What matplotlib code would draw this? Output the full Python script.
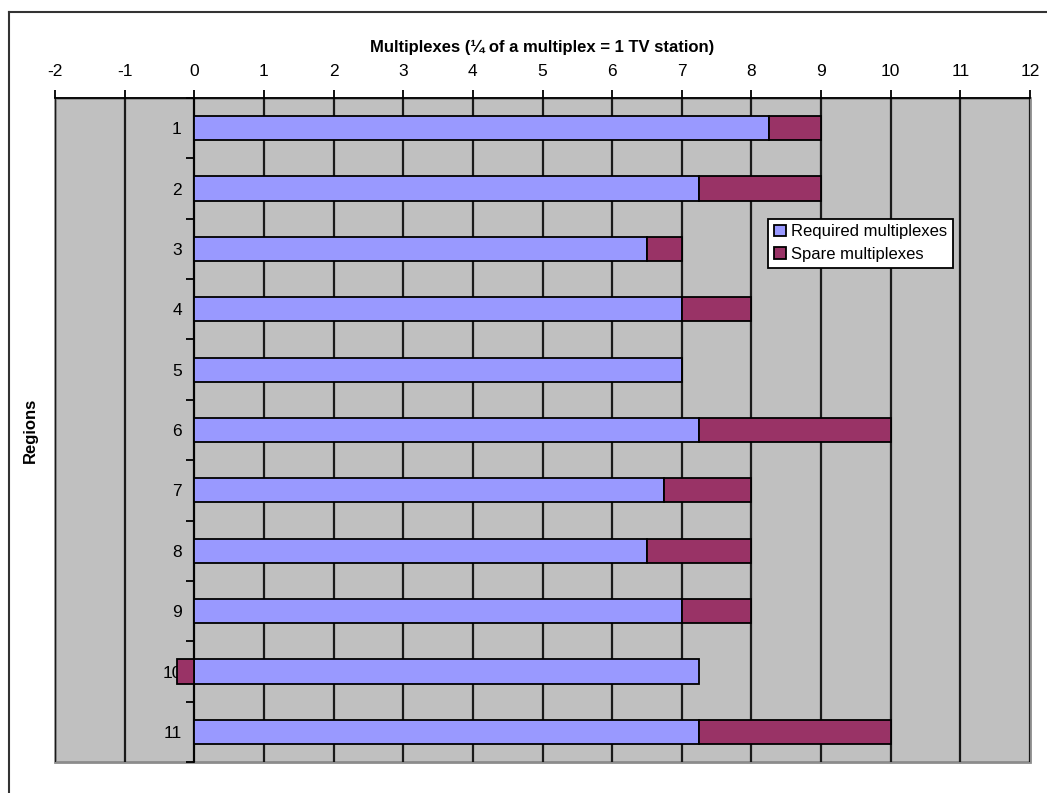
import matplotlib
matplotlib.use("Agg")
import matplotlib.pyplot as plt
from matplotlib.lines import Line2D
from matplotlib.ticker import MultipleLocator, FixedLocator
import numpy as np

plt.rcParams['font.family'] = ['Liberation Sans', 'DejaVu Sans']
plt.rcParams['axes.unicode_minus'] = False

regions = [1, 2, 3, 4, 5, 6, 7, 8, 9, 10, 11]
required = [8.25, 7.25, 6.5, 7, 7, 7.25, 6.75, 6.5, 7, 7.25, 7.25]
spare = [0.75, 1.75, 0.5, 1, 0, 2.75, 1.25, 1.5, 1, -0.25, 2.75]

fig = plt.figure(figsize=(10.47, 7.93), dpi=100)
ax = fig.add_axes([0.0525, 0.039, 0.9313, 0.8374])

req = np.array(required)
spr = np.array(spare)
# Excel-style stacking: negative values start from zero
spare_left = np.where(spr >= 0, req, 0)

ax.barh(regions, req, height=0.4, color='#9999FF', edgecolor='black',
        linewidth=1.3, label='Required multiplexes', zorder=3)
ax.barh(regions, spr, left=spare_left, height=0.4, color='#993366',
        edgecolor='black', linewidth=1.3, label='Spare multiplexes', zorder=3)

ax.set_xlim(-2, 12)
ax.set_ylim(11.5, 0.5)
ax.set_facecolor('#C0C0C0')
ax.patch.set_edgecolor('#8C8C8C')
ax.patch.set_linewidth(2)

# x axis on top
ax.xaxis.set_ticks_position('top')
ax.xaxis.set_label_position('top')
ax.xaxis.set_major_locator(MultipleLocator(1))
ax.tick_params(axis='x', direction='out', length=6, width=1.3, labelsize=12.5, pad=8)
ax.set_xlabel('Multiplexes (¼ of a multiplex = 1 TV station)', fontsize=12,
              fontweight='bold', labelpad=8)
ax.grid(axis='x', color='#1a1a1a', linewidth=1.6, zorder=1)
ax.set_axisbelow(True)

# category axis sits at x = 0
ax.spines['left'].set_position(('data', 0))
ax.spines['left'].set_linewidth(1.3)
ax.spines['top'].set_linewidth(1.3)
ax.spines['bottom'].set_visible(False)
ax.spines['right'].set_visible(False)
ax.set_yticks(regions)
ax.set_yticklabels([str(r) for r in regions])
ax.yaxis.set_minor_locator(FixedLocator(np.arange(0.5, 12, 1)))
ax.tick_params(axis='y', which='major', length=0, labelsize=12.5, pad=9)
ax.tick_params(axis='y', which='minor', direction='out', length=6, width=1.3)

fig.text(0.029, 0.457, 'Regions', rotation=90, fontsize=12, fontweight='bold',
         ha='center', va='center')

leg = ax.legend(loc='upper left', bbox_to_anchor=(0.7315, 0.8185), fontsize=12,
                frameon=True, fancybox=False, framealpha=1, edgecolor='black',
                handlelength=0.7, handleheight=0.7, handletextpad=0.3,
                borderpad=0.35, labelspacing=0.45, borderaxespad=0)
leg.get_frame().set_linewidth(1.3)

# outer chart frame
fig.add_artist(Line2D([0.0086, 0.0086], [0, 0.985], color='#333333', lw=1.5))
fig.add_artist(Line2D([0.0086, 1], [0.985, 0.985], color='#333333', lw=1.5))

fig.savefig('out.png', dpi=100)
